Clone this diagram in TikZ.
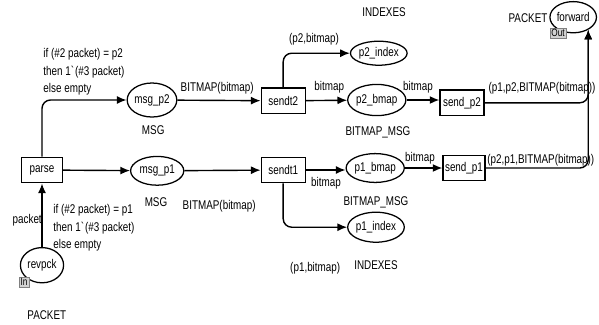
\documentclass[tikz,border=0pt]{standalone}
\usepackage{fontspec}
\setmainfont{Liberation Sans}[FakeStretch=0.78]
\usetikzlibrary{arrows.meta, positioning, calc, shapes.geometric}

\begin{document}
\begin{tikzpicture}[font=\fontsize{9}{12.5}\selectfont,
  pl/.style={draw, ellipse, line width=0.9pt, inner sep=0pt, minimum width=1.25cm, minimum height=0.75cm},
  tr/.style={draw, rectangle, line width=0.9pt, inner sep=1pt, minimum width=1.1cm, minimum height=0.64cm},
  port/.style={draw=gray, fill=gray!35, inner sep=1pt, font=\fontsize{7.5}{8}\selectfont},
  lbl/.style={inner sep=1pt},
  ins/.style={align=left, inner sep=0pt, anchor=north west},
  a/.style={-{Latex[length=2.4mm, width=2mm]}, line width=1pt, rounded corners=6pt}]
  \useasboundingbox (0,0) rectangle (14.975,-8.1);
  % places
  \node[pl, minimum width=1.08cm, minimum height=0.88cm] (revpck) at (1.05,-6.63) {revpck};
  \node[pl, minimum width=1.18cm, minimum height=0.85cm] (msgptwo) at (3.8,-2.5) {msg\_p2};
  \node[pl, minimum width=1.33cm, minimum height=0.72cm] (msgpone) at (3.93,-4.27) {msg\_p1};
  \node[pl, minimum width=1.38cm, minimum height=0.6cm] (ptwoidx) at (9.47,-1.33) {p2\_index};
  \node[pl, minimum width=1.22cm, minimum height=0.78cm] (ptwobmp) at (9.42,-2.5) {p2\_bmap};
  \node[pl, minimum width=1.25cm, minimum height=0.72cm] (ponebmp) at (9.38,-4.2) {p1\_bmap};
  \node[pl, minimum width=1.3cm, minimum height=0.75cm] (poneidx) at (9.4,-5.68) {p1\_index};
  \node[pl, minimum width=1.0cm, minimum height=0.78cm] (forward) at (14.33,-0.43) {forward};
  % transitions
  \node[tr, minimum width=1.03cm] (parse) at (1.05,-4.25) {parse};
  \node[tr] (sendttwo) at (7.08,-2.52) {sendt2};
  \node[tr] (sendtone) at (7.08,-4.25) {sendt1};
  \node[tr, minimum width=1.1cm] (sendptwo) at (11.55,-2.57) {send\_p2};
  \node[tr, minimum width=1.05cm] (sendpone) at (11.6,-4.2) {send\_p1};
  % port tags and colour sets
  \node[port] (intag) at (0.6,-7.05) {In};
  \node[port] (outtag) at (13.95,-0.83) {Out};
  \node[lbl] (cspkin) at (1.17,-7.87) {PACKET};
  \node[lbl] (cspkout) at (13.2,-0.45) {PACKET};
  \node[lbl] (csmsgtwo) at (3.83,-3.25) {MSG};
  \node[lbl] (csmsgone) at (3.9,-5.05) {MSG};
  \node[lbl] (csidxtwo) at (9.6,-0.3) {INDEXES};
  \node[lbl] (csidxone) at (9.4,-6.63) {INDEXES};
  \node[lbl] (csbmptwo) at (9.45,-3.3) {BITMAP\_MSG};
  \node[lbl] (csbmpone) at (9.4,-5.05) {BITMAP\_MSG};
  % arcs
  \draw[a] (revpck) -- (parse);
  \draw[a] (parse) -- (msgpone);
  \draw[a] (parse.north) |- (msgptwo.west);
  \draw[a] (msgptwo) -- (sendttwo);
  \draw[a] (msgpone) -- (sendtone);
  \draw[a] (sendttwo.north) |- (ptwoidx.west);
  \draw[a] (sendttwo) -- (ptwobmp);
  \draw[a] (ptwobmp) -- (sendptwo.west |- ptwobmp);
  \draw[a] (sendtone) -- (ponebmp.west |- sendtone);
  \draw[a] (sendtone.south) |- (poneidx.west);
  \draw[a] (ponebmp) -- (sendpone.west |- ponebmp);
  \draw[a] (sendptwo.east) -| (forward.-40);
  \draw[a] (sendpone.east) -| (forward.-40);
  % arc inscriptions
  \node[lbl] (ipacket) at (0.68,-5.5) {packet};
  \node[ins] (iguardtwo) at (1.08,-1.2) {if (\#2 packet) = p2\\then 1\textasciigrave(\#3 packet)\\else empty};
  \node[ins] (iguardone) at (1.33,-5.1) {if (\#2 packet) = p1\\then 1\textasciigrave(\#3 packet)\\else empty};
  \node[lbl] (ibmtwo) at (5.43,-2.2) {BITMAP(bitmap)};
  \node[lbl] (ibmone) at (5.48,-5.15) {BITMAP(bitmap)};
  \node[lbl] (iidxtwo) at (7.85,-0.98) {(p2,bitmap)};
  \node[lbl] (iidxone) at (7.88,-6.7) {(p1,bitmap)};
  \node[lbl] (ibtwoa) at (8.23,-2.17) {bitmap};
  \node[lbl] (ibtwob) at (10.45,-2.17) {bitmap};
  \node[lbl] (ibonea) at (8.15,-4.58) {bitmap};
  \node[lbl] (iboneb) at (10.5,-3.95) {bitmap};
  \node[lbl] (ifwdtwo) at (13.55,-2.2) {(p1,p2,BITMAP(bitmap))};
  \node[lbl] (ifwdone) at (13.52,-4.0) {(p2,p1,BITMAP(bitmap))};
\end{tikzpicture}
\end{document}
